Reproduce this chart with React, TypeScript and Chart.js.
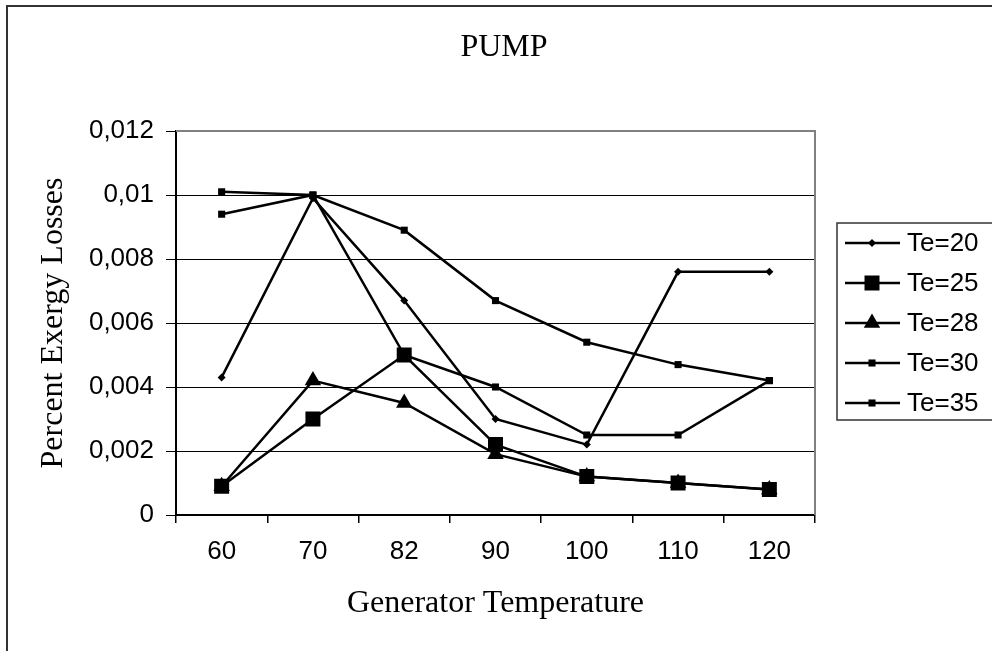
import React, { useEffect, useRef } from "react";
import { Chart, registerables } from "chart.js";

Chart.register(...registerables);

const categories = ["60", "70", "82", "90", "100", "110", "120"];
const te20 = [0.0043, 0.0099, 0.0067, 0.003, 0.0022, 0.0076, 0.0076];
const te25 = [0.0009, 0.003, 0.005, 0.0022, 0.0012, 0.001, 0.0008];
const te28 = [0.0009, 0.0042, 0.0035, 0.0019, 0.0012, 0.001, 0.0008];
const te30 = [0.0094, 0.01, 0.005, 0.004, 0.0025, 0.0025, 0.0042];
const te35 = [0.0101, 0.01, 0.0089, 0.0067, 0.0054, 0.0047, 0.0042];
const seriesNames = ["Te=20", "Te=25", "Te=28", "Te=30", "Te=35"];
const yMin = 0;
const yMax = 0.012;
const yStep = 0.002;
const titleText = "PUMP";
const xTitle = "Generator Temperature";
const yTitle = "Percent Exergy Losses";

const SERIF = "'Liberation Serif', 'Times New Roman', serif";
const SANS = "'Liberation Sans', Arial, sans-serif";

function drawMarker(ctx: CanvasRenderingContext2D, style: string, r: number, x: number, y: number) {
  ctx.save();
  ctx.fillStyle = "#000";
  ctx.beginPath();
  if (style === "rect") {
    const s = r * Math.SQRT1_2;
    ctx.rect(x - s, y - s, 2 * s, 2 * s);
  } else if (style === "triangle") {
    ctx.moveTo(x, y - r);
    ctx.lineTo(x + r * 0.866, y + r * 0.5);
    ctx.lineTo(x - r * 0.866, y + r * 0.5);
    ctx.closePath();
  } else {
    ctx.moveTo(x, y - r);
    ctx.lineTo(x + r, y);
    ctx.lineTo(x, y + r);
    ctx.lineTo(x - r, y);
    ctx.closePath();
  }
  ctx.fill();
  ctx.restore();
}

const decorPlugin = {
  id: "decor",
  beforeDatasetsDraw(chart: any) {
    const { ctx, chartArea } = chart;
    ctx.save();
    ctx.strokeStyle = "#808080";
    ctx.lineWidth = 2;
    ctx.beginPath();
    ctx.moveTo(chartArea.left, chartArea.top);
    ctx.lineTo(chartArea.right, chartArea.top);
    ctx.lineTo(chartArea.right, chartArea.bottom);
    ctx.stroke();
    ctx.restore();
  },
  afterDraw(chart: any) {
    const { ctx, chartArea } = chart;
    ctx.save();
    ctx.fillStyle = "#000";
    ctx.textAlign = "center";
    ctx.textBaseline = "middle";
    ctx.font = `32px ${SERIF}`;
    ctx.fillText(titleText, 504, 48);
    ctx.fillText(xTitle, (chartArea.left + chartArea.right) / 2, 604);
    ctx.save();
    ctx.translate(54, (chartArea.top + chartArea.bottom) / 2);
    ctx.rotate(-Math.PI / 2);
    ctx.fillText(yTitle, 0, 0);
    ctx.restore();

    // legend
    const boxLeft = 837;
    const boxTop = 223;
    const boxBottom = 420;
    ctx.strokeStyle = "#333";
    ctx.lineWidth = 1.5;
    ctx.beginPath();
    ctx.moveTo(1000, boxTop);
    ctx.lineTo(boxLeft, boxTop);
    ctx.lineTo(boxLeft, boxBottom);
    ctx.lineTo(1000, boxBottom);
    ctx.stroke();
    ctx.font = `26px ${SANS}`;
    ctx.textAlign = "left";
    chart.data.datasets.forEach((ds: any, i: number) => {
      const y = 243 + i * 40;
      ctx.strokeStyle = "#000";
      ctx.lineWidth = 2.5;
      ctx.beginPath();
      ctx.moveTo(845, y);
      ctx.lineTo(900, y);
      ctx.stroke();
      drawMarker(ctx, ds.pointStyle, ds.pointRadius, 872, y);
      ctx.fillText(ds.label, 907, y + 1);
    });
    ctx.restore();
  },
};

export default function App() {
  const ref = useRef<HTMLCanvasElement | null>(null);
  useEffect(() => {
    if (!ref.current) return;
    const mk = (label: string, data: number[], pointStyle: string, pointRadius: number) => ({
      label,
      data,
      pointStyle,
      pointRadius,
      pointHoverRadius: pointRadius,
      borderColor: "#000",
      backgroundColor: "#000",
      pointBackgroundColor: "#000",
      pointBorderColor: "#000",
      pointBorderWidth: 0,
      borderWidth: 2.5,
      tension: 0,
      fill: false,
    });
    const chart = new Chart(ref.current, {
      type: "line",
      data: {
        labels: categories,
        datasets: [
          mk(seriesNames[0], te20, "rectRot", 4),
          mk(seriesNames[1], te25, "rect", 10.6),
          mk(seriesNames[2], te28, "triangle", 9.5),
          mk(seriesNames[3], te30, "rect", 5),
          mk(seriesNames[4], te35, "rect", 5),
        ],
      },
      options: {
        responsive: false,
        animation: false,
        devicePixelRatio: 1,
        layout: { padding: { left: 0, top: 131, right: 177, bottom: 0 } },
        plugins: {
          legend: { display: false },
          title: { display: false },
          tooltip: { enabled: false },
        },
        scales: {
          x: {
            type: "category",
            offset: true,
            afterFit: (s: any) => {
              s.height = 136;
            },
            grid: {
              offset: true,
              drawOnChartArea: false,
              drawTicks: true,
              tickLength: 8,
              color: "#000",
              lineWidth: 1.5,
            },
            border: { color: "#000", width: 2 },
            ticks: {
              color: "#000",
              font: { family: SANS, size: 26 },
              padding: 13,
              maxRotation: 0,
              autoSkip: false,
            },
          },
          y: {
            min: yMin,
            max: yMax,
            afterFit: (s: any) => {
              s.width = 176;
            },
            grid: {
              color: "#000",
              lineWidth: 1,
              drawTicks: true,
              tickLength: 10,
            },
            border: { color: "#000", width: 2 },
            ticks: {
              stepSize: yStep,
              color: "#000",
              font: { family: SANS, size: 26 },
              padding: 12,
              callback: (v: any) => String(Number(Number(v).toFixed(4))).replace(".", ","),
            },
          },
        },
      },
      plugins: [decorPlugin],
    });
    return () => chart.destroy();
  }, []);
  return (
    <div style={{ position: "absolute", left: 0, top: 0, width: 992, height: 651, overflow: "hidden", background: "#fff" }}>
      <div
        style={{
          position: "absolute",
          left: 6,
          top: 5,
          width: 1000,
          height: 700,
          borderTop: "2px solid #333",
          borderLeft: "2px solid #333",
        }}
      />
      <canvas ref={ref} width={992} height={651} style={{ position: "absolute", left: 0, top: 0 }} />
    </div>
  );
}
